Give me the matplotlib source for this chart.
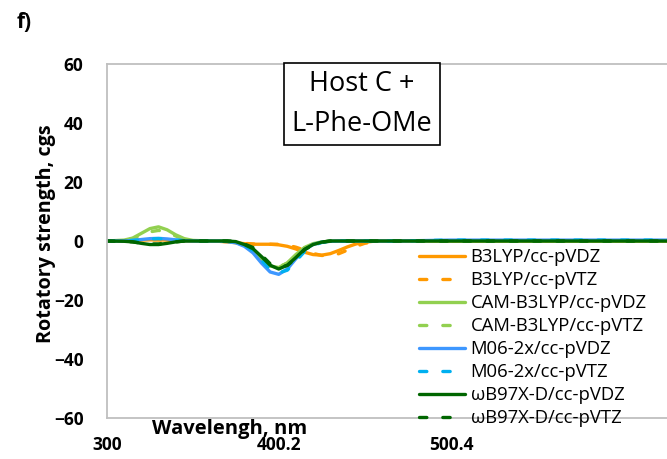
import numpy as np
import matplotlib.pyplot as plt

plt.rcParams['font.family'] = ['Open Sans', 'DejaVu Sans']

# values (rotatory strength, cgs)
wavelength = [300, 310, 315, 320, 325, 330, 335, 340, 345, 350, 360, 365, 370, 375,
              380, 385, 390, 395, 400, 405, 410, 415, 420, 425, 430, 435, 440, 445,
              450, 455, 460, 470, 500, 550, 600, 650]

b3lyp_vdz = [0, 0, 0.1, 0.3, 0.4, 0.4, 0.3, 0.1, 0, 0, 0, -0.1, -0.3, -0.6,
             -0.9, -1.1, -1.1, -1.1, -1.3, -1.8, -2.7, -3.8, -4.6, -4.8, -4.3, -3.2, -2.0, -1.0,
             -0.4, -0.1, 0, 0, 0, 0, 0, 0]
b3lyp_vtz = [0, 0, 0.1, 0.3, 0.4, 0.4, 0.3, 0.1, 0, 0, 0, -0.1, -0.2, -0.5,
             -0.8, -1.0, -1.1, -1.1, -1.1, -1.4, -2.1, -3.1, -4.2, -4.9, -5.0, -4.3, -3.1, -1.8,
             -0.8, -0.3, -0.1, 0, 0, 0, 0, 0]
cam_vdz = [0, 0.3, 1.0, 2.6, 4.2, 4.8, 3.8, 2.1, 0.8, 0.2, 0, 0, -0.1, -0.5,
           -1.5, -3.5, -6.3, -8.5, -9.0, -7.4, -4.6, -2.2, -0.9, -0.3, -0.1, 0, 0, 0,
           0, 0, 0, 0, 0, 0, 0, 0]
cam_vtz = [0, 0.2, 0.8, 2.0, 3.1, 3.6, 3.0, 1.7, 0.6, 0.1, 0, 0, -0.1, -0.4,
           -1.2, -3.0, -5.7, -8.0, -8.7, -7.6, -4.9, -2.4, -1.0, -0.3, -0.1, 0, 0, 0,
           0, 0, 0, 0, 0, 0, 0, 0]
m06_vdz = [0, 0, 0.2, 0.5, 0.8, 0.9, 0.7, 0.4, 0.1, 0, 0, 0, -0.2, -0.6,
           -1.8, -4.0, -7.5, -10.5, -11.3, -9.5, -6.0, -3.0, -1.2, -0.4, -0.1, 0, 0, 0,
           0, 0, 0, 0, 0.3, 0.3, 0.3, 0.3]
m06_vtz = [0, 0, 0.2, 0.4, 0.7, 0.8, 0.6, 0.3, 0.1, 0, 0, 0, -0.1, -0.4,
           -1.3, -3.2, -6.5, -9.6, -10.8, -9.9, -6.8, -3.6, -1.5, -0.5, -0.1, 0, 0, 0,
           0, 0, 0, 0, 0.3, 0.3, 0.3, 0.3]
wb97_vdz = [0, -0.1, -0.3, -0.8, -1.2, -1.2, -0.8, -0.3, 0, 0, 0, 0, 0, -0.2,
            -1.2, -2.6, -5.3, -8.2, -9.5, -8.2, -5.6, -2.8, -1.2, -0.4, 0, 0, 0, 0,
            0, 0, 0, 0, 0, 0, 0, 0]
wb97_vtz = [0, -0.1, -0.3, -0.7, -1.0, -1.0, -0.7, -0.3, 0, 0, 0, 0, 0, -0.1,
            -1.0, -2.2, -4.8, -7.7, -9.0, -8.3, -5.9, -3.0, -1.3, -0.4, 0, 0, 0, 0,
            0, 0, 0, 0, 0, 0, 0, 0]

series = [b3lyp_vdz, b3lyp_vtz, cam_vdz, cam_vtz, m06_vdz, m06_vtz, wb97_vdz, wb97_vtz]
labels = ['B3LYP/cc-pVDZ', 'B3LYP/cc-pVTZ', 'CAM-B3LYP/cc-pVDZ', 'CAM-B3LYP/cc-pVTZ',
          'M06-2x/cc-pVDZ', 'M06-2x/cc-pVTZ', 'ωB97X-D/cc-pVDZ', 'ωB97X-D/cc-pVTZ']
colors = ['#FF9900', '#FF9900', '#92D050', '#92D050',
          '#3D97FF', '#00B0F0', '#006600', '#006600']
dashed = [False, True, False, True, False, True, False, True]

x_ticks = [300, 400.2, 500.4]
y_ticks = [-60, -40, -20, 0, 20, 40, 60]

fig = plt.figure(figsize=(6.67, 4.59), dpi=100)
ax = fig.add_axes([107 / 667, 41 / 459, 601 / 667, 354 / 459])

for vals, lab, col, d in zip(series, labels, colors, dashed):
    if d:
        ax.plot(wavelength, vals, color=col, lw=2.4, ls=(0, (2.2, 4.8)),
                dash_capstyle='round', label=lab)
    else:
        ax.plot(wavelength, vals, color=col, lw=2.4, solid_capstyle='round', label=lab)

ax.set_xlim(300, 650)
ax.set_ylim(-60, 60)
ax.set_xticks(x_ticks)
ax.set_xticklabels(['300', '400.2', '500.4'])
ax.set_yticks(y_ticks)
ax.tick_params(length=0, labelsize=12.5)
ax.tick_params(axis='x', pad=13)
ax.tick_params(axis='y', pad=17)
for lbl in ax.get_xticklabels() + ax.get_yticklabels():
    lbl.set_fontweight('bold')
for side in ['left', 'top', 'bottom']:
    ax.spines[side].set_color('#BFBFBF')
    ax.spines[side].set_linewidth(1.3)
ax.spines['right'].set_visible(False)

leg = ax.legend(loc='upper left', bbox_to_anchor=(410 / 667, 1 - 239 / 459),
                bbox_transform=fig.transFigure, frameon=False, fontsize=13.3,
                handlelength=2.5, handletextpad=0.28, labelspacing=0.27, borderpad=0)

fig.text(362 / 667, 1 - 104 / 459, 'Host C +\nL-Phe-OMe', fontsize=19.5,
         ha='center', va='center', linespacing=1.55,
         bbox=dict(boxstyle='square,pad=0.28', fc='white', ec='black', lw=1.2))

fig.text(230 / 667, 1 - 429 / 459, 'Wavelengh, nm', fontsize=14.5, fontweight='bold',
         ha='center', va='center')
fig.text(46 / 667, 1 - 234 / 459, 'Rotatory strength, cgs', fontsize=14.2,
         fontweight='bold', rotation=90, ha='center', va='center')
fig.text(17 / 667, 1 - 23 / 459, 'f)', fontsize=15, fontweight='bold',
         ha='left', va='center')

fig.savefig('out.png', dpi=100)
